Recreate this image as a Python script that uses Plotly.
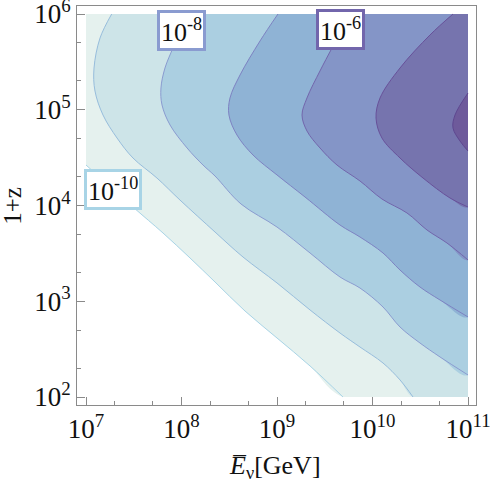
import numpy as np
import plotly.graph_objects as go

# contour levels shown in the plot
levels = [1e-10, 1e-9, 1e-8, 1e-7, 1e-6, 1e-5, 1e-4]

# contour lines: log10(E / GeV) and log10(1+z)
c1_logE = [7.000, 7.492, 7.806, 8.089, 8.351, 8.665, 9.000, 9.346, 9.691]
c1_logz = [4.423, 3.984, 3.713, 3.452, 3.201, 2.898, 2.616, 2.324, 2.000]

c2_logE = [7.269, 7.147, 7.084, 7.094, 7.178, 7.325, 7.492, 7.743, 7.984,
           8.351, 8.644, 9.000, 9.346, 9.660, 9.869, 10.110, 10.288, 10.424]
c2_logz = [6.000, 5.749, 5.436, 5.196, 4.945, 4.705, 4.496, 4.287, 4.057,
           3.723, 3.462, 3.191, 2.909, 2.668, 2.522, 2.355, 2.178, 2.000]

c3_logE = [8.068, 7.984, 7.911, 7.827, 7.785, 7.796, 7.880, 8.058, 8.225, 8.351,
           8.623, 9.000, 9.346, 9.660, 9.869, 10.110, 10.288, 10.497, 10.707, 11.000]
c3_logz = [6.000, 5.812, 5.645, 5.436, 5.227, 5.050, 4.841, 4.601, 4.423, 4.308,
           4.016, 3.775, 3.504, 3.253, 3.138, 2.940, 2.731, 2.564, 2.418, 2.230]

c4_logE = [9.010, 8.822, 8.613, 8.508, 8.497, 8.581, 8.749, 9.000, 9.293,
           9.660, 9.869, 10.110, 10.288, 10.497, 10.707, 11.000]
c4_logz = [6.000, 5.718, 5.363, 5.123, 4.945, 4.736, 4.527, 4.319, 4.089,
           3.796, 3.671, 3.504, 3.326, 3.149, 3.013, 2.836]

c5_logE = [9.764, 9.576, 9.450, 9.314, 9.262, 9.314, 9.450, 9.628, 9.869,
           10.099, 10.361, 10.571, 10.780, 11.000]
c5_logz = [6.000, 5.645, 5.405, 5.123, 4.945, 4.778, 4.601, 4.423, 4.256,
           4.068, 3.922, 3.744, 3.608, 3.431]

c6_logE = [10.843, 10.602, 10.288, 10.079, 10.037, 10.099, 10.288, 10.529, 10.812, 11.000]
c6_logz = [6.000, 5.781, 5.436, 5.123, 4.914, 4.705, 4.496, 4.287, 4.078, 3.984]

c7_logE = [11.000, 10.864, 10.843, 10.916, 11.000]
c7_logz = [5.175, 4.945, 4.809, 4.674, 4.569]

contours = [(c1_logE, c1_logz), (c2_logE, c2_logz), (c3_logE, c3_logz),
            (c4_logE, c4_logz), (c5_logE, c5_logz), (c6_logE, c6_logz),
            (c7_logE, c7_logz)]

x_ticks = [1e7, 1e8, 1e9, 1e10, 1e11]
x_ticktext = ['10<sup>7</sup>', '10<sup>8</sup>', '10<sup>9</sup>',
              '10<sup>10</sup>', '10<sup>11</sup>']
y_ticks = [1e2, 1e3, 1e4, 1e5, 1e6]
y_ticktext = ['10<sup>2</sup>', '10<sup>3</sup>', '10<sup>4</sup>',
              '10<sup>5</sup>', '10<sup>6</sup>']

# labelled contours: (level index, label text)
labelled = [(0, '10<sup>-10</sup>'), (2, '10<sup>-8</sup>'), (4, '10<sup>-6</sup>')]

LOG_E = (7, 11)
LOG_Z = (2, 6)

fill_colors = ['#e5f1ee', '#cde4e8', '#abcfe1', '#8fb3d5', '#8495c7', '#7674ae', '#6e5a9b']
line_colors = ['#a8d4e6', '#97bddc', '#8a9bd0', '#7d82c2', '#7266ac', '#68519a', '#5e4790']
label_pos = {0: (7.283, 4.172), 2: (7.995, 5.830), 4: (9.665, 5.835)}

FONT = 'Liberation Serif, Times New Roman, serif'
AXIS_GRAY = '#8a8a8a'


def region(lx, lz):
    # close a contour line around the upper-right corner of the domain
    xs, ys = list(lx), list(lz)
    start_x = xs[0]
    if ys[-1] == LOG_Z[0]:
        xs.append(LOG_E[1]); ys.append(LOG_Z[0])
    if start_x != LOG_E[1]:
        xs.append(LOG_E[1]); ys.append(LOG_Z[1])
    if start_x == LOG_E[0]:
        xs.append(LOG_E[0]); ys.append(LOG_Z[1])
    return 10 ** np.array(xs), 10 ** np.array(ys)


fig = go.Figure()

for i, (lx, lz) in enumerate(contours):
    rx, ry = region(lx, lz)
    fig.add_trace(go.Scatter(
        x=rx, y=ry, mode='lines', fill='toself',
        fillcolor=fill_colors[i], line=dict(width=0, shape='spline', smoothing=1),
        showlegend=False, hoverinfo='skip'
    ))

# white strips outside the data domain (the smoothed fills bulge out a little)
big_lo, big_hi = 1e-3, 1e20
for sx, sy in [((big_lo, 10 ** LOG_E[0]), (big_lo, big_hi)),
               ((10 ** LOG_E[1], big_hi), (big_lo, big_hi)),
               ((big_lo, big_hi), (big_lo, 10 ** LOG_Z[0])),
               ((big_lo, big_hi), (10 ** LOG_Z[1], big_hi))]:
    fig.add_trace(go.Scatter(
        x=[sx[0], sx[1], sx[1], sx[0], sx[0]],
        y=[sy[0], sy[0], sy[1], sy[1], sy[0]],
        mode='lines', fill='toself', fillcolor='white',
        line=dict(width=0), showlegend=False, hoverinfo='skip'
    ))

for i, (lx, lz) in enumerate(contours):
    fig.add_trace(go.Scatter(
        x=10 ** np.array(lx), y=10 ** np.array(lz), mode='lines',
        line=dict(color=line_colors[i], width=1, shape='spline', smoothing=1),
        showlegend=False, hoverinfo='skip'
    ))

for idx, text in labelled:
    px, py = label_pos[idx]
    fig.add_annotation(
        x=px, y=py, xref='x', yref='y', text=text, showarrow=False,
        xanchor='center', yanchor='middle',
        font=dict(family=FONT, size=26, color='#111111'),
        bgcolor='white', bordercolor=line_colors[idx], borderwidth=3, borderpad=1
    )

fig.add_annotation(
    x=0.496, y=-0.155, xref='paper', yref='paper', showarrow=False,
    xanchor='center', yanchor='middle',
    text='<i>E\u0305</i><sub>\u03bd</sub>[GeV]',
    font=dict(family=FONT, size=26, color='#111111')
)
fig.add_annotation(
    x=-0.162, y=0.5, xref='paper', yref='paper', showarrow=False,
    xanchor='center', yanchor='middle',
    text='1+z', textangle=-90,
    font=dict(family=FONT, size=25, color='#111111')
)

axis_common = dict(
    type='log', showgrid=False, zeroline=False, automargin=False,
    showline=True, linecolor=AXIS_GRAY, linewidth=1, mirror=True,
    ticks='inside', ticklen=8, tickcolor=AXIS_GRAY, tickwidth=1,
    ticklabeloverflow='allow',
    tickfont=dict(family=FONT, size=27, color='#111111'),
)

x_minor = [m * 10 ** e for e in range(7, 11) for m in (2, 5)]
y_minor = [m * 10 ** e for e in range(2, 6) for m in (2, 5)]

fig.update_xaxes(
    range=[6.9058, 11.0838], tickvals=x_ticks, ticktext=x_ticktext,
    minor=dict(tickvals=x_minor, ticks='inside', ticklen=4,
               tickcolor=AXIS_GRAY, showgrid=False),
    **axis_common
)
fig.update_yaxes(
    range=[1.9164, 6.0836], tickvals=y_ticks, ticktext=y_ticktext,
    minor=dict(tickvals=y_minor, ticks='inside', ticklen=4,
               tickcolor=AXIS_GRAY, showgrid=False),
    **axis_common
)

fig.update_layout(
    width=490, height=482,
    margin=dict(l=77, r=14, t=6, b=77),
    paper_bgcolor='white', plot_bgcolor='white',
)

page_fix = ("document.body.style.margin='0';"
            "document.body.style.overflow='hidden';"
            "document.documentElement.style.overflow='hidden';")
fig.write_html('out.html', config={'displayModeBar': False}, post_script=page_fix)
